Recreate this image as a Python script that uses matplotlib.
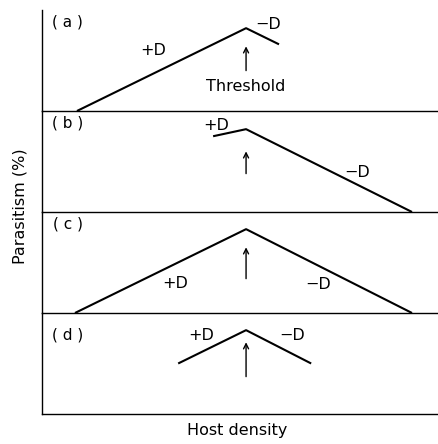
import matplotlib
matplotlib.use('Agg')
import matplotlib.pyplot as plt

plt.rcParams['font.family'] = ['DejaVu Sans']

# host density (0-100) and parasitism (0-100) for each panel's line
panel_labels = ['( a )', '( b )', '( c )', '( d )']
line_x = [[8.8, 51.4, 59.7],
          [43.1, 51.4, 93.2],
          [8.3, 51.4, 93.2],
          [34.3, 51.4, 67.8]]
line_y = [[0, 82, 66],
          [75, 82, 0],
          [0, 83, 0],
          [50, 83, 50]]
threshold = 51.4
arrow_from = [40, 38, 34, 37]
arrow_to = [64, 60, 65, 71]
plus_pos = [(28, 60), (44, 86), (33.5, 29), (40, 78)]
minus_pos = [(57, 86), (79.5, 39), (69.5, 28), (63, 78)]

fig, axes = plt.subplots(4, 1, figsize=(4.39, 4.44), dpi=100, sharex=True)
fig.subplots_adjust(left=0.0957, right=1.0, top=0.9775, bottom=0.0676, hspace=0)

for i, ax in enumerate(axes):
    ax.set_facecolor('none')
    ax.plot(line_x[i], line_y[i], color='black', lw=1.5, solid_capstyle='butt')
    ax.annotate('', xy=(threshold, arrow_to[i]), xytext=(threshold, arrow_from[i]),
                arrowprops=dict(arrowstyle='->', color='black', lw=1.0,
                                mutation_scale=9, shrinkA=0, shrinkB=0))
    ax.text(6.5, 88 if i != 3 else 78, panel_labels[i], fontsize=11, ha='center', va='center')
    ax.text(plus_pos[i][0], plus_pos[i][1], '+D', fontsize=11.5, ha='center', va='center')
    ax.text(minus_pos[i][0], minus_pos[i][1], '\u2212D', fontsize=11.5, ha='center', va='center')
    ax.set_xlim(0, 100)
    ax.set_ylim(0, 100)
    ax.set_xticks([])
    ax.set_yticks([])
    ax.spines['top'].set_visible(False)
    ax.spines['right'].set_visible(False)
    ax.spines['left'].set_linewidth(1.0)
    ax.spines['bottom'].set_linewidth(1.0)
    ax.spines['bottom'].set_zorder(5)

axes[0].text(threshold, 24, 'Threshold', fontsize=11.5, ha='center', va='center')

fig.text(0.54, 0.03, 'Host density', fontsize=11.5, ha='center', va='center')
fig.text(0.045, 0.535, 'Parasitism (%)', fontsize=11.5, ha='center', va='center', rotation=90)

fig.savefig('out.png', dpi=100)
